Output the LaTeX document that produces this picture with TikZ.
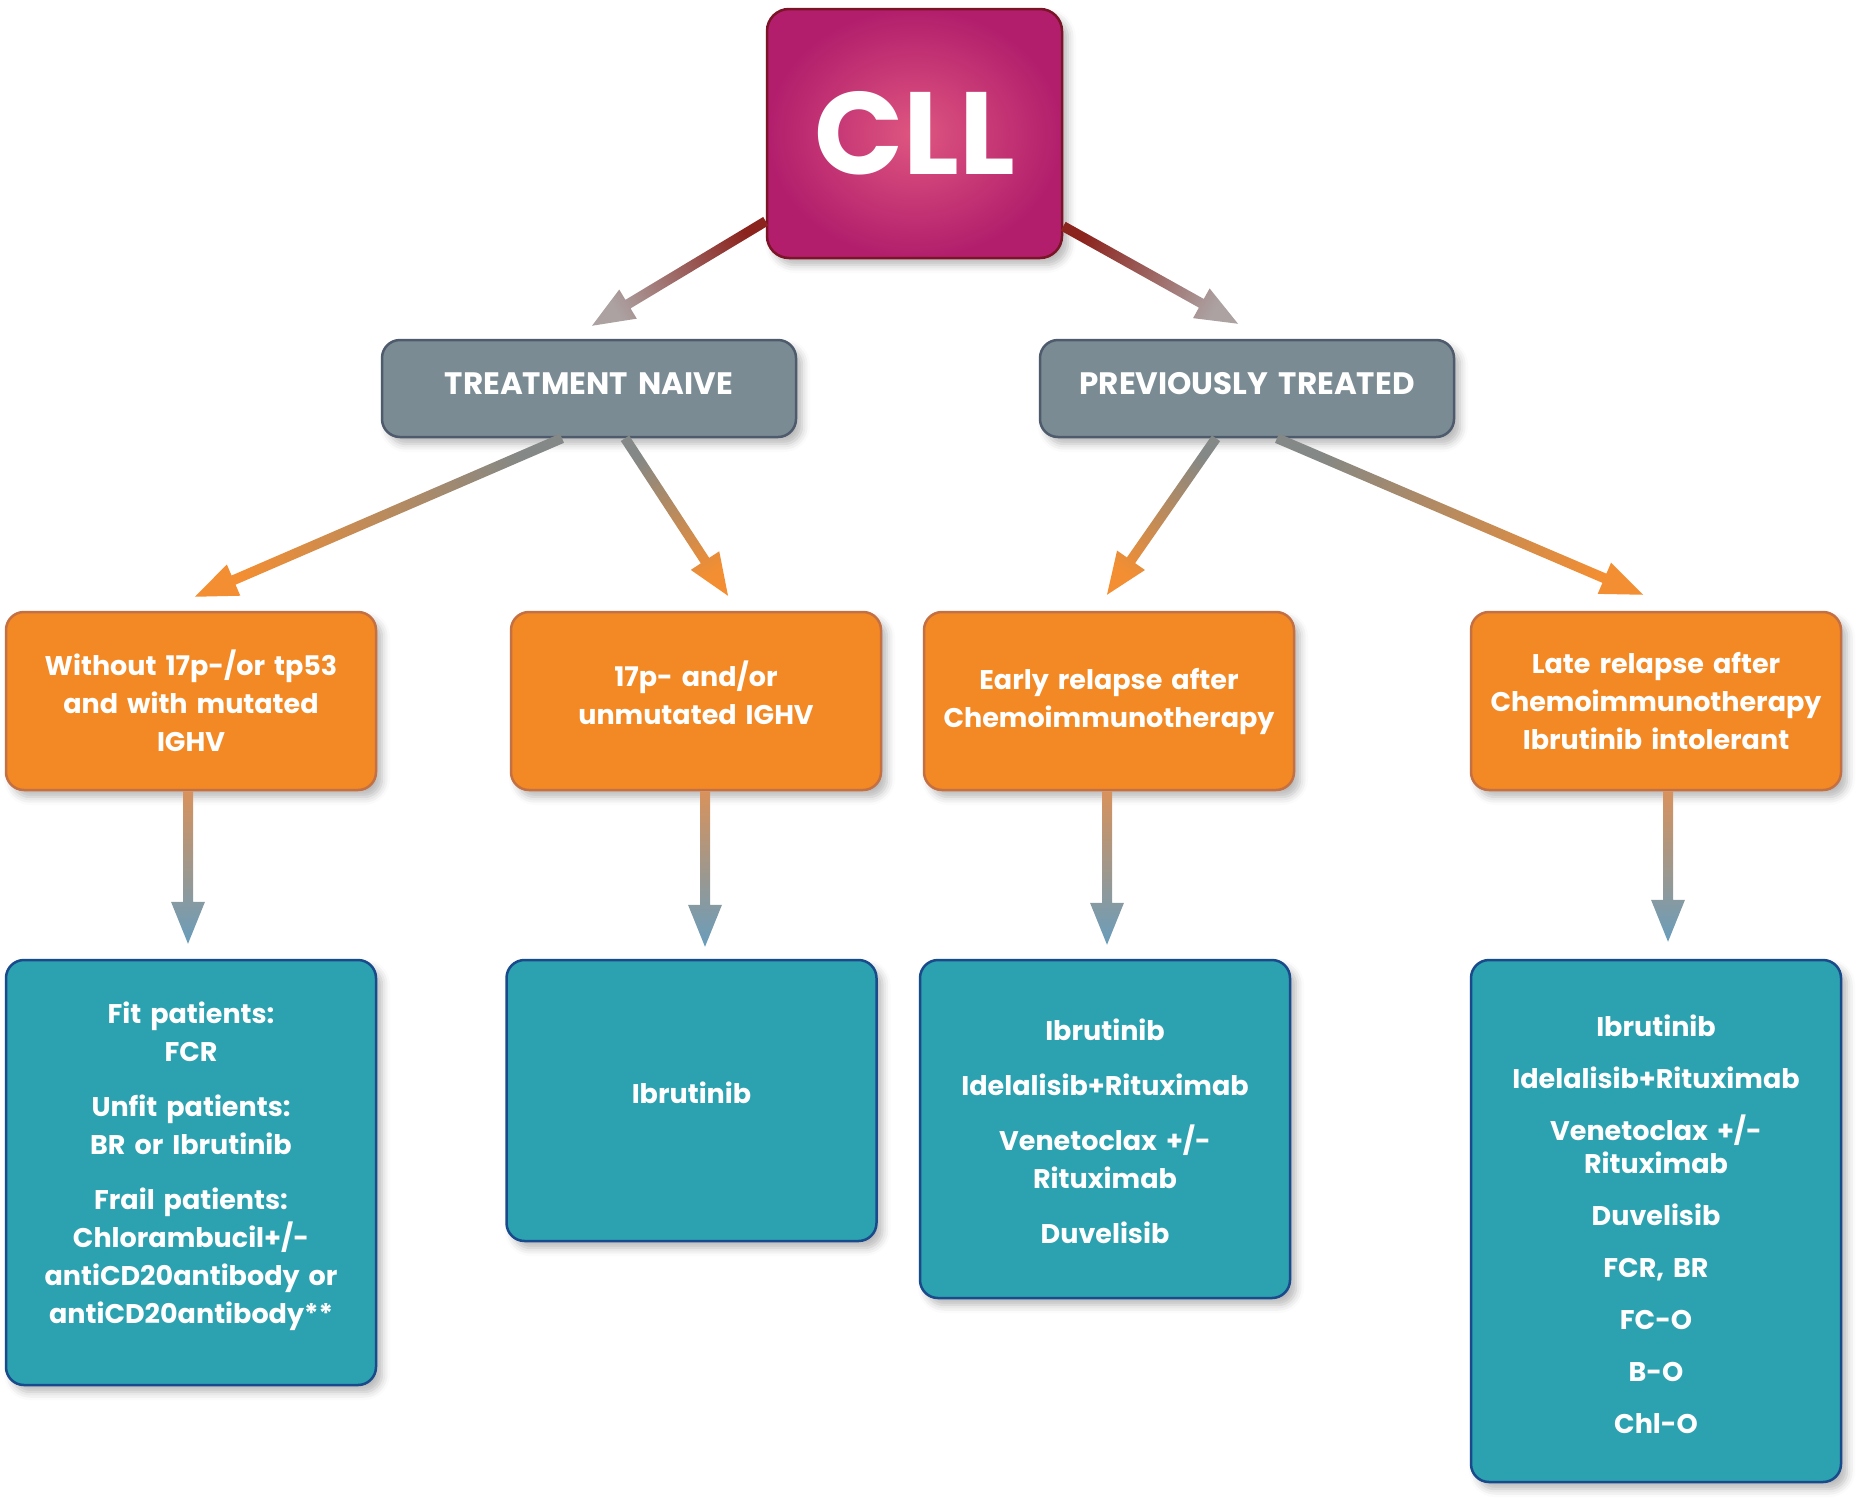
\documentclass[tikz,border=0pt]{standalone}
\usepackage{fontspec}
\setmainfont{Poppins}
\usetikzlibrary{calc,shadows.blur}

\definecolor{cllin}{RGB}{222,86,128}
\definecolor{cllout}{RGB}{178,30,108}
\definecolor{cllline}{RGB}{122,20,38}
\definecolor{greybox}{RGB}{123,139,147}
\definecolor{greyline}{RGB}{78,91,108}
\definecolor{orangebox}{RGB}{243,137,36}
\definecolor{orangeline}{RGB}{196,112,66}
\definecolor{tealbox}{RGB}{44,161,176}
\definecolor{tealline}{RGB}{24,74,140}
\definecolor{arrred}{RGB}{140,36,30}
\definecolor{arrgrey}{RGB}{172,162,162}
\definecolor{arrslate}{RGB}{132,136,134}
\definecolor{arrorange}{RGB}{243,142,50}
\definecolor{arrtan}{RGB}{216,146,92}
\definecolor{arrblue}{RGB}{104,157,188}

\tikzset{
  box/.style={rounded corners=18pt, line width=2.5pt, align=center, text=white, inner sep=0pt,
    font=\bfseries\fontsize{27}{38}\selectfont,
    blur shadow={shadow xshift=6pt, shadow yshift=-7pt, shadow blur radius=8pt, shadow opacity=28}},
  cllbox/.style={box, rounded corners=22pt, draw=cllline, inner color=cllin, outer color=cllout,
    minimum width=295pt, minimum height=249pt, font=\bfseries\fontsize{117}{117}\selectfont},
  groupbox/.style={box, draw=greyline, fill=greybox, minimum width=414pt, minimum height=97pt,
    text width=400pt, font=\bfseries\fontsize{31}{36}\selectfont},
  casebox/.style={box, draw=orangeline, fill=orangebox, minimum width=370pt, minimum height=178pt,
    text width=340pt},
  therapybox/.style={box, draw=tealline, fill=tealbox, minimum width=370pt, text width=340pt}
}

% shaded arrow: tail, tip, colour at tail, colour at tip
\newcommand{\gradarrow}[4]{%
  \coordinate (ga-s) at (#1);
  \coordinate (ga-t) at (#2);
  \coordinate (ga-b) at ($(ga-t)!42pt!(ga-s)$);
  \pgfmathanglebetweenpoints{\pgfpointanchor{ga-s}{center}}{\pgfpointanchor{ga-t}{center}}%
  \pgfmathsetmacro{\gaangle}{\pgfmathresult+90}%
  \shade[top color=#3, bottom color=#4, shading angle=\gaangle]
    ($(ga-s)!5pt!90:(ga-t)$) -- ($(ga-b)!5pt!90:(ga-t)$) -- ($(ga-b)!17pt!90:(ga-t)$) -- (ga-t)
    -- ($(ga-b)!17pt!-90:(ga-t)$) -- ($(ga-b)!5pt!-90:(ga-t)$) -- ($(ga-s)!5pt!-90:(ga-t)$) -- cycle;}

\begin{document}
\begin{tikzpicture}[x=1pt,y=-1pt]
\useasboundingbox (0,0) rectangle (1862,1502);

\node[cllbox] (cll) at (914.5,133.5) {CLL};

\node[groupbox] (naive) at (589,388.5) {TREATMENT NAIVE\par\vspace*{9pt}};
\node[groupbox] (prev) at (1247,388.5) {PREVIOUSLY TREATED\par\vspace*{9pt}};

\node[casebox] (wo) at (191,701) {Without 17p-/or tp53\\ and with mutated\\ IGHV};
\node[casebox] (del) at (696,701) {17p- and/or\\ unmutated IGHV\par\vspace*{16pt}};
\node[casebox] (early) at (1109,701) {Early relapse after\\ Chemoimmunotherapy};
\node[casebox] (late) at (1656,701) {Late relapse after\\ Chemoimmunotherapy\\ Ibrutinib intolerant};

\node[therapybox, minimum height=425pt] (fit) at (191,1172.5)
  {Fit patients:\\ FCR\\[17pt] Unfit patients:\\ BR or Ibrutinib\\[17pt] Frail patients:\\ Chlorambucil+/-\\ antiCD20antibody or\\ antiCD20antibody**\par\vspace*{12pt}};
\node[therapybox, minimum height=281pt] (ibr) at (691.5,1100.5) {Ibrutinib\par\vspace*{16pt}};
\node[therapybox, minimum height=338pt] (rel) at (1105,1129)
  {\rule{0pt}{27pt}Ibrutinib\\[17pt] Idelalisib+Rituximab\\[17pt] Venetoclax +/-\\ Rituximab\\[17pt] Duvelisib};
\node[therapybox, minimum height=522pt, font=\bfseries\fontsize{27}{33}\selectfont] (lat) at (1656,1221)
  {\rule{0pt}{28pt}Ibrutinib\\[19pt] Idelalisib+Rituximab\\[19pt] Venetoclax +/-\\ Rituximab\\[19pt] Duvelisib\\[19pt] FCR, BR\\[19pt] FC-O\\[19pt] B-O\\[19pt] Chl-O};

% arrows
\gradarrow{[yshift=38pt]cll.south west}{[yshift=13pt,xshift=3pt]naive.north}{arrred}{arrgrey}
\gradarrow{[yshift=33pt]cll.south east}{[yshift=15pt,xshift=-9pt]prev.north}{arrred}{arrgrey}

\gradarrow{[xshift=-27pt]naive.south}{[yshift=14pt,xshift=4pt]wo.north}{arrslate}{arrorange}
\gradarrow{[xshift=36pt]naive.south}{[yshift=15pt,xshift=32pt]del.north}{arrslate}{arrorange}
\gradarrow{[xshift=-31pt]prev.south}{[yshift=16pt,xshift=-2pt]early.north}{arrslate}{arrorange}
\gradarrow{[xshift=30pt]prev.south}{[yshift=16pt,xshift=-13pt]late.north}{arrslate}{arrorange}

\gradarrow{[xshift=-3pt]wo.south}{[yshift=15pt,xshift=-3pt]fit.north}{arrtan}{arrblue}
\gradarrow{[xshift=9pt]del.south}{[yshift=12pt,xshift=13.5pt]ibr.north}{arrtan}{arrblue}
\gradarrow{[xshift=-2pt]early.south}{[yshift=14pt,xshift=2pt]rel.north}{arrtan}{arrblue}
\gradarrow{[xshift=12pt]late.south}{[yshift=17pt,xshift=12pt]lat.north}{arrtan}{arrblue}
\end{tikzpicture}
\end{document}
